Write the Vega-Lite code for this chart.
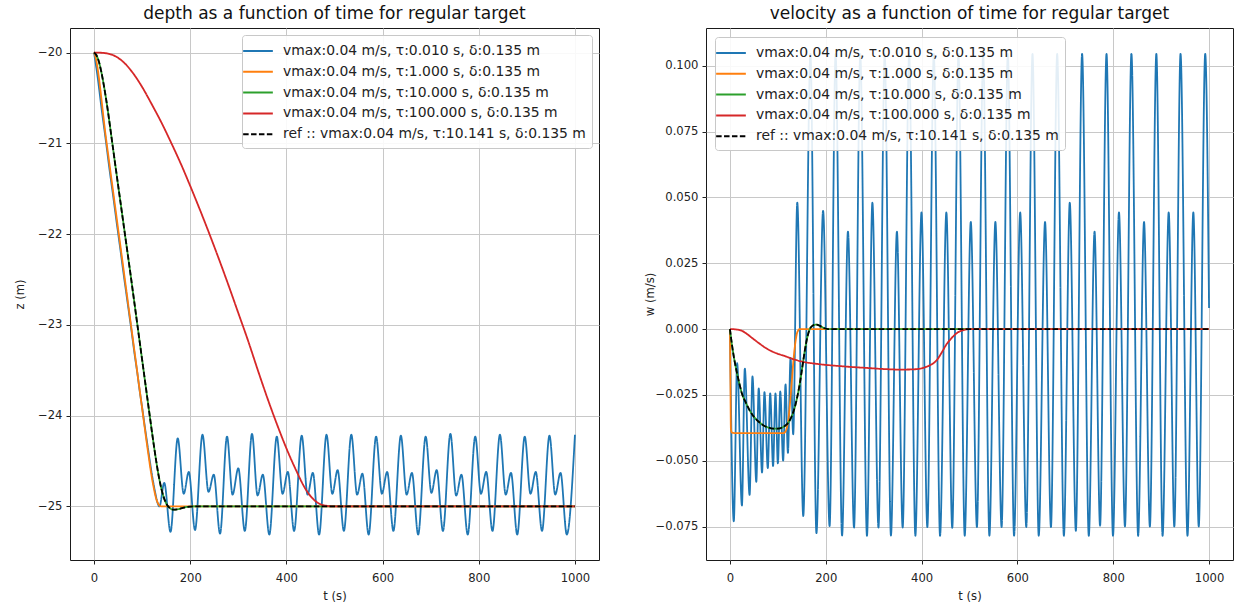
{
  "$schema": "https://vega.github.io/schema/vega-lite/v6.json",
  "background": "white",
  "autosize": {"type": "pad"},
  "padding": {"left": 14, "top": 4, "right": 3, "bottom": 2},
  "bounds": "flush",
  "spacing": 107,
  "config": {
    "font": "DejaVu Sans",
    "view": {"stroke": "#1a1a1a", "strokeWidth": 1},
    "axis": {
      "labelFont": "DejaVu Sans", "labelFontSize": 11.6, "labelColor": "#222",
      "titleFont": "DejaVu Sans", "titleFontSize": 11.6, "titleFontWeight": "normal", "titleColor": "#222",
      "gridColor": "#c8c8c8", "gridWidth": 1, "domain": false,
      "tickColor": "#222", "tickSize": 4, "labelPadding": 4
    },
    "axisX": {"labelPadding": 8},
    "title": {"font": "DejaVu Sans", "fontSize": 17, "fontWeight": "normal", "color": "#111", "frame": "group", "anchor": "middle", "offset": 5},
    "legend": {
      "labelFont": "DejaVu Sans", "labelFontSize": 13.9, "labelColor": "#222", "labelLimit": 500,
      "symbolType": "M-1.65,0H1.65", "symbolSize": 324, "symbolStrokeWidth": 2,
      "labelOffset": 15, "padding": 6, "rowPadding": 3.8,
      "fillColor": "rgba(255,255,255,0.88)", "strokeColor": "#c8c8c8", "cornerRadius": 3
    }
  },
  "datasets": {
    "series": [
      {"s": "a", "name": "vmax:0.04 m/s, τ:0.010 s, δ:0.135 m"},
      {"s": "b", "name": "vmax:0.04 m/s, τ:1.000 s, δ:0.135 m"},
      {"s": "c", "name": "vmax:0.04 m/s, τ:10.000 s, δ:0.135 m"},
      {"s": "d", "name": "vmax:0.04 m/s, τ:100.000 s, δ:0.135 m"},
      {"s": "r", "name": "ref :: vmax:0.04 m/s, τ:10.141 s, δ:0.135 m"}
    ],
    "depth": [
      {"s":"a","t":0,"z":-20},{"s":"a","t":8,"z":-20.29},{"s":"a","t":15,"z":-20.59},{"s":"a","t":25,"z":-20.99},
      {"s":"a","t":31,"z":-21.24},{"s":"a","t":41,"z":-21.63},{"s":"a","t":47,"z":-21.87},{"s":"a","t":55,"z":-22.18},
      {"s":"a","t":60,"z":-22.38},{"s":"a","t":67,"z":-22.65},{"s":"a","t":72,"z":-22.84},{"s":"a","t":79,"z":-23.11},
      {"s":"a","t":84,"z":-23.31},{"s":"a","t":90,"z":-23.53},{"s":"a","t":95,"z":-23.73},{"s":"a","t":100,"z":-23.91},
      {"s":"a","t":105,"z":-24.1},{"s":"a","t":111,"z":-24.32},{"s":"a","t":116,"z":-24.5},{"s":"a","t":121,"z":-24.67},
      {"s":"a","t":126.5,"z":-24.83},{"s":"a","t":132,"z":-24.96},{"s":"a","t":136,"z":-25.0},{"s":"a","t":146,"z":-24.74},
      {"s":"a","t":159,"z":-25.28},{"s":"a","t":174,"z":-24.25},{"s":"a","t":186.5,"z":-24.86},{"s":"a","t":197,"z":-24.62},
      {"s":"a","t":210,"z":-25.26},{"s":"a","t":225.5,"z":-24.21},{"s":"a","t":238,"z":-24.84},{"s":"a","t":249,"z":-24.65},
      {"s":"a","t":262,"z":-25.3},{"s":"a","t":276.5,"z":-24.23},{"s":"a","t":288,"z":-24.87},{"s":"a","t":300,"z":-24.58},
      {"s":"a","t":313.5,"z":-25.27},{"s":"a","t":328.5,"z":-24.2},{"s":"a","t":340,"z":-24.88},{"s":"a","t":351,"z":-24.65},
      {"s":"a","t":364.5,"z":-25.31},{"s":"a","t":380,"z":-24.23},{"s":"a","t":392,"z":-24.86},{"s":"a","t":403,"z":-24.62},
      {"s":"a","t":416,"z":-25.27},{"s":"a","t":431.8,"z":-24.22},{"s":"a","t":444,"z":-24.87},{"s":"a","t":455,"z":-24.63},
      {"s":"a","t":468,"z":-25.31},{"s":"a","t":483.4,"z":-24.21},{"s":"a","t":495.5,"z":-24.86},{"s":"a","t":506.5,"z":-24.6},
      {"s":"a","t":519.5,"z":-25.27},{"s":"a","t":535,"z":-24.21},{"s":"a","t":547,"z":-24.87},{"s":"a","t":558,"z":-24.64},
      {"s":"a","t":571,"z":-25.31},{"s":"a","t":586.5,"z":-24.23},{"s":"a","t":598.5,"z":-24.86},{"s":"a","t":609.5,"z":-24.62},
      {"s":"a","t":622.5,"z":-25.27},{"s":"a","t":638,"z":-24.22},{"s":"a","t":650,"z":-24.87},{"s":"a","t":661,"z":-24.63},
      {"s":"a","t":674,"z":-25.31},{"s":"a","t":689.6,"z":-24.23},{"s":"a","t":701.5,"z":-24.85},{"s":"a","t":712.5,"z":-24.6},
      {"s":"a","t":725.5,"z":-25.27},{"s":"a","t":741,"z":-24.2},{"s":"a","t":753,"z":-24.88},{"s":"a","t":764,"z":-24.65},
      {"s":"a","t":777,"z":-25.31},{"s":"a","t":792.7,"z":-24.23},{"s":"a","t":804.5,"z":-24.86},{"s":"a","t":815.5,"z":-24.62},
      {"s":"a","t":828.5,"z":-25.27},{"s":"a","t":844,"z":-24.21},{"s":"a","t":856,"z":-24.87},{"s":"a","t":867,"z":-24.63},
      {"s":"a","t":880,"z":-25.31},{"s":"a","t":895.6,"z":-24.23},{"s":"a","t":907.5,"z":-24.86},{"s":"a","t":918.5,"z":-24.62},
      {"s":"a","t":931.5,"z":-25.27},{"s":"a","t":947,"z":-24.22},{"s":"a","t":959,"z":-24.87},{"s":"a","t":970,"z":-24.63},
      {"s":"a","t":983,"z":-25.31},{"s":"a","t":1000,"z":-24.21},

      {"s":"b","t":0,"z":-20},{"s":"b","t":2,"z":-20.03},{"s":"b","t":25,"z":-20.95},{"s":"b","t":50,"z":-21.94},
      {"s":"b","t":75,"z":-22.93},{"s":"b","t":100,"z":-23.92},{"s":"b","t":112,"z":-24.39},{"s":"b","t":118,"z":-24.61},
      {"s":"b","t":124,"z":-24.79},{"s":"b","t":129,"z":-24.91},{"s":"b","t":134,"z":-24.975},{"s":"b","t":140,"z":-25.0},
      {"s":"b","t":1000,"z":-25.0},

      {"s":"c","t":0,"z":-20},{"s":"c","t":5,"z":-20.03},{"s":"c","t":10,"z":-20.1},{"s":"c","t":15,"z":-20.21},
      {"s":"c","t":20,"z":-20.35},{"s":"c","t":25,"z":-20.51},{"s":"c","t":30,"z":-20.69},{"s":"c","t":37,"z":-20.96},
      {"s":"c","t":45,"z":-21.27},{"s":"c","t":55,"z":-21.65},{"s":"c","t":65,"z":-22.03},{"s":"c","t":75,"z":-22.41},
      {"s":"c","t":85,"z":-22.8},{"s":"c","t":95,"z":-23.19},{"s":"c","t":105,"z":-23.58},{"s":"c","t":115,"z":-23.97},
      {"s":"c","t":125,"z":-24.35},{"s":"c","t":135,"z":-24.68},{"s":"c","t":145,"z":-24.9},{"s":"c","t":152,"z":-24.985},
      {"s":"c","t":158,"z":-25.02},{"s":"c","t":165,"z":-25.035},{"s":"c","t":175,"z":-25.03},{"s":"c","t":185,"z":-25.015},
      {"s":"c","t":195,"z":-25.004},{"s":"c","t":210,"z":-25.0},{"s":"c","t":1000,"z":-25.0},

      {"s":"d","t":0,"z":-20},{"s":"d","t":20,"z":-20.005},{"s":"d","t":40,"z":-20.03},{"s":"d","t":60,"z":-20.1},
      {"s":"d","t":80,"z":-20.22},{"s":"d","t":100,"z":-20.38},{"s":"d","t":120,"z":-20.57},{"s":"d","t":140,"z":-20.77},
      {"s":"d","t":160,"z":-20.99},{"s":"d","t":180,"z":-21.22},{"s":"d","t":200,"z":-21.47},{"s":"d","t":220,"z":-21.73},
      {"s":"d","t":240,"z":-22.0},{"s":"d","t":260,"z":-22.28},{"s":"d","t":280,"z":-22.57},{"s":"d","t":300,"z":-22.87},
      {"s":"d","t":320,"z":-23.17},{"s":"d","t":340,"z":-23.49},{"s":"d","t":360,"z":-23.8},{"s":"d","t":380,"z":-24.09},
      {"s":"d","t":400,"z":-24.36},{"s":"d","t":420,"z":-24.6},{"s":"d","t":440,"z":-24.81},{"s":"d","t":460,"z":-24.94},
      {"s":"d","t":480,"z":-24.99},{"s":"d","t":500,"z":-25.0},{"s":"d","t":1000,"z":-25.0},

      {"s":"r","t":0,"z":-20},{"s":"r","t":5,"z":-20.03},{"s":"r","t":10,"z":-20.1},{"s":"r","t":15,"z":-20.21},
      {"s":"r","t":20,"z":-20.35},{"s":"r","t":25,"z":-20.51},{"s":"r","t":30,"z":-20.69},{"s":"r","t":37,"z":-20.96},
      {"s":"r","t":45,"z":-21.27},{"s":"r","t":55,"z":-21.65},{"s":"r","t":65,"z":-22.03},{"s":"r","t":75,"z":-22.41},
      {"s":"r","t":85,"z":-22.8},{"s":"r","t":95,"z":-23.19},{"s":"r","t":105,"z":-23.58},{"s":"r","t":115,"z":-23.97},
      {"s":"r","t":125,"z":-24.35},{"s":"r","t":135,"z":-24.68},{"s":"r","t":145,"z":-24.9},{"s":"r","t":152,"z":-24.985},
      {"s":"r","t":158,"z":-25.02},{"s":"r","t":165,"z":-25.035},{"s":"r","t":175,"z":-25.03},{"s":"r","t":185,"z":-25.015},
      {"s":"r","t":195,"z":-25.004},{"s":"r","t":210,"z":-25.0},{"s":"r","t":1000,"z":-25.0}
    ],
    "velocity": [
      {"s":"a","t":0,"w":0},{"s":"a","t":8,"w":-0.073},{"s":"a","t":15,"w":-0.013},{"s":"a","t":25,"w":-0.067},
      {"s":"a","t":31,"w":-0.015},{"s":"a","t":41,"w":-0.063},{"s":"a","t":47,"w":-0.018},{"s":"a","t":55,"w":-0.058},
      {"s":"a","t":60,"w":-0.0225},{"s":"a","t":67,"w":-0.0545},{"s":"a","t":72,"w":-0.024},{"s":"a","t":79,"w":-0.0528},
      {"s":"a","t":84,"w":-0.0244},{"s":"a","t":90,"w":-0.052},{"s":"a","t":95,"w":-0.0244},{"s":"a","t":100,"w":-0.051},
      {"s":"a","t":105,"w":-0.0237},{"s":"a","t":111,"w":-0.05},{"s":"a","t":116,"w":-0.021},{"s":"a","t":121,"w":-0.047},
      {"s":"a","t":126.5,"w":-0.011},{"s":"a","t":132,"w":-0.04},{"s":"a","t":140.5,"w":0.048},{"s":"a","t":153,"w":-0.071},
      {"s":"a","t":168,"w":0.1045},{"s":"a","t":180.5,"w":-0.0775},{"s":"a","t":194.4,"w":0.0449},{"s":"a","t":208,"w":-0.0748},
      {"s":"a","t":220.5,"w":0.1045},{"s":"a","t":234,"w":-0.0784},{"s":"a","t":246.3,"w":0.037},{"s":"a","t":259,"w":-0.0754},
      {"s":"a","t":272,"w":0.1045},{"s":"a","t":286,"w":-0.0785},{"s":"a","t":297.3,"w":0.048},{"s":"a","t":310,"w":-0.0754},
      {"s":"a","t":323,"w":0.1045},{"s":"a","t":336,"w":-0.0784},{"s":"a","t":348.5,"w":0.037},{"s":"a","t":360.5,"w":-0.0754},
      {"s":"a","t":374,"w":0.1045},{"s":"a","t":387,"w":-0.0785},{"s":"a","t":399.8,"w":0.0443},{"s":"a","t":412,"w":-0.0752},
      {"s":"a","t":425.5,"w":0.1045},{"s":"a","t":438.5,"w":-0.0785},{"s":"a","t":451.7,"w":0.0443},{"s":"a","t":464,"w":-0.0755},
      {"s":"a","t":477,"w":0.1045},{"s":"a","t":490,"w":-0.0785},{"s":"a","t":502.7,"w":0.0407},{"s":"a","t":515.5,"w":-0.0752},
      {"s":"a","t":528.5,"w":0.1045},{"s":"a","t":541.5,"w":-0.0785},{"s":"a","t":554,"w":0.0407},{"s":"a","t":567,"w":-0.0752},
      {"s":"a","t":580,"w":0.1045},{"s":"a","t":593,"w":-0.0785},{"s":"a","t":605.8,"w":0.0443},{"s":"a","t":618.5,"w":-0.0752},
      {"s":"a","t":631.5,"w":0.1045},{"s":"a","t":644.5,"w":-0.0785},{"s":"a","t":657.7,"w":0.0407},{"s":"a","t":670,"w":-0.0752},
      {"s":"a","t":683,"w":0.1045},{"s":"a","t":697,"w":-0.0785},{"s":"a","t":709.3,"w":0.048},{"s":"a","t":722,"w":-0.0766},
      {"s":"a","t":735,"w":0.1045},{"s":"a","t":749,"w":-0.0785},{"s":"a","t":761,"w":0.037},{"s":"a","t":772.5,"w":-0.0747},
      {"s":"a","t":786,"w":0.1045},{"s":"a","t":799.5,"w":-0.0785},{"s":"a","t":812,"w":0.0443},{"s":"a","t":824.5,"w":-0.075},
      {"s":"a","t":838,"w":0.1045},{"s":"a","t":852,"w":-0.0785},{"s":"a","t":864.3,"w":0.0407},{"s":"a","t":876.5,"w":-0.075},
      {"s":"a","t":890,"w":0.1045},{"s":"a","t":903,"w":-0.0785},{"s":"a","t":915.8,"w":0.0443},{"s":"a","t":927.5,"w":-0.075},
      {"s":"a","t":940.5,"w":0.1045},{"s":"a","t":955,"w":-0.0785},{"s":"a","t":967.2,"w":0.0443},{"s":"a","t":978.5,"w":-0.075},
      {"s":"a","t":992,"w":0.1045},{"s":"a","t":1000,"w":0.008},

      {"s":"b","t":0,"w":0},{"s":"b","t":1,"w":-0.02},{"s":"b","t":2,"w":-0.038},{"s":"b","t":4,"w":-0.0393},
      {"s":"b","t":10,"w":-0.0395},{"s":"b","t":112,"w":-0.0395},{"s":"b","t":117,"w":-0.0385},{"s":"b","t":121,"w":-0.0355},
      {"s":"b","t":124.5,"w":-0.03},{"s":"b","t":129,"w":-0.02},{"s":"b","t":133,"w":-0.011},{"s":"b","t":137,"w":-0.0045},
      {"s":"b","t":141,"w":-0.001},{"s":"b","t":146,"w":0},{"s":"b","t":1000,"w":0},

      {"s":"c","t":0,"w":0},{"s":"c","t":2,"w":-0.003},{"s":"c","t":5,"w":-0.007},{"s":"c","t":10,"w":-0.0125},
      {"s":"c","t":15,"w":-0.017},{"s":"c","t":20,"w":-0.021},{"s":"c","t":25,"w":-0.0245},{"s":"c","t":32,"w":-0.0275},
      {"s":"c","t":40,"w":-0.0305},{"s":"c","t":50,"w":-0.0333},{"s":"c","t":60,"w":-0.0352},{"s":"c","t":70,"w":-0.0366},
      {"s":"c","t":80,"w":-0.0374},{"s":"c","t":90,"w":-0.0378},{"s":"c","t":100,"w":-0.0378},{"s":"c","t":108,"w":-0.0375},
      {"s":"c","t":116,"w":-0.0366},{"s":"c","t":122,"w":-0.0355},{"s":"c","t":128,"w":-0.0335},{"s":"c","t":134,"w":-0.0305},
      {"s":"c","t":140,"w":-0.0262},{"s":"c","t":146,"w":-0.0205},{"s":"c","t":151,"w":-0.0145},{"s":"c","t":156,"w":-0.0085},
      {"s":"c","t":161,"w":-0.0035},{"s":"c","t":166,"w":-0.0003},{"s":"c","t":172,"w":0.0012},{"s":"c","t":180,"w":0.0017},
      {"s":"c","t":188,"w":0.0012},{"s":"c","t":196,"w":0.0004},{"s":"c","t":205,"w":0},{"s":"c","t":1000,"w":0},

      {"s":"d","t":0,"w":0},{"s":"d","t":10,"w":-0.0001},{"s":"d","t":24,"w":-0.0006},{"s":"d","t":35,"w":-0.0018},
      {"s":"d","t":45.6,"w":-0.0033},{"s":"d","t":60,"w":-0.0053},{"s":"d","t":80,"w":-0.0078},{"s":"d","t":100,"w":-0.0094},
      {"s":"d","t":115,"w":-0.0103},{"s":"d","t":130,"w":-0.0113},{"s":"d","t":149,"w":-0.0123},{"s":"d","t":184,"w":-0.0133},
      {"s":"d","t":218,"w":-0.0139},{"s":"d","t":253,"w":-0.0144},{"s":"d","t":288,"w":-0.0148},{"s":"d","t":322,"w":-0.0152},
      {"s":"d","t":357,"w":-0.0154},{"s":"d","t":384,"w":-0.0153},{"s":"d","t":400,"w":-0.0149},{"s":"d","t":412,"w":-0.0142},
      {"s":"d","t":420,"w":-0.0135},{"s":"d","t":426,"w":-0.0128},{"s":"d","t":433,"w":-0.0115},{"s":"d","t":443,"w":-0.0086},
      {"s":"d","t":452,"w":-0.0058},{"s":"d","t":460,"w":-0.004},{"s":"d","t":467,"w":-0.0026},{"s":"d","t":474.5,"w":-0.0014},
      {"s":"d","t":481,"w":-0.0008},{"s":"d","t":490,"w":-0.0003},{"s":"d","t":500,"w":0},{"s":"d","t":1000,"w":0},

      {"s":"r","t":0,"w":0},{"s":"r","t":2,"w":-0.003},{"s":"r","t":5,"w":-0.007},{"s":"r","t":10,"w":-0.0125},
      {"s":"r","t":15,"w":-0.017},{"s":"r","t":20,"w":-0.021},{"s":"r","t":25,"w":-0.0245},{"s":"r","t":32,"w":-0.0275},
      {"s":"r","t":40,"w":-0.0305},{"s":"r","t":50,"w":-0.0333},{"s":"r","t":60,"w":-0.0352},{"s":"r","t":70,"w":-0.0366},
      {"s":"r","t":80,"w":-0.0374},{"s":"r","t":90,"w":-0.0378},{"s":"r","t":100,"w":-0.0378},{"s":"r","t":108,"w":-0.0375},
      {"s":"r","t":116,"w":-0.0366},{"s":"r","t":122,"w":-0.0355},{"s":"r","t":128,"w":-0.0335},{"s":"r","t":134,"w":-0.0305},
      {"s":"r","t":140,"w":-0.0262},{"s":"r","t":146,"w":-0.0205},{"s":"r","t":151,"w":-0.0145},{"s":"r","t":156,"w":-0.0085},
      {"s":"r","t":161,"w":-0.0035},{"s":"r","t":166,"w":-0.0003},{"s":"r","t":172,"w":0.0012},{"s":"r","t":180,"w":0.0017},
      {"s":"r","t":188,"w":0.0012},{"s":"r","t":196,"w":0.0004},{"s":"r","t":205,"w":0},{"s":"r","t":1000,"w":0}
    ]
  },
  "resolve": {
    "scale": {"x": "independent", "y": "independent", "color": "independent", "strokeDash": "independent"},
    "legend": {"color": "independent", "strokeDash": "independent"}
  },
  "hconcat": [
    {
      "title": "depth as a function of time for regular target",
      "width": 529,
      "height": 532,
      "data": {"name": "depth"},
      "transform": [{"lookup": "s", "from": {"data": {"name": "series"}, "key": "s", "fields": ["name"]}}],
      "mark": {"type": "line", "strokeWidth": 1.8, "interpolate": "monotone", "clip": true},
      "encoding": {
        "x": {"field": "t", "type": "quantitative",
              "scale": {"domain": [-50, 1050], "nice": false, "zero": false},
              "axis": {"title": "t (s)", "values": [0, 200, 400, 600, 800, 1000], "format": "d", "titlePadding": 7}},
        "y": {"field": "z", "type": "quantitative",
              "scale": {"domain": [-25.59, -19.73], "nice": false, "zero": false},
              "axis": {"title": "z (m)", "values": [-25, -24, -23, -22, -21, -20], "format": "d", "titlePadding": 12}},
        "color": {"field": "name", "type": "nominal",
                  "scale": {"domain": ["vmax:0.04 m/s, τ:0.010 s, δ:0.135 m", "vmax:0.04 m/s, τ:1.000 s, δ:0.135 m", "vmax:0.04 m/s, τ:10.000 s, δ:0.135 m", "vmax:0.04 m/s, τ:100.000 s, δ:0.135 m", "ref :: vmax:0.04 m/s, τ:10.141 s, δ:0.135 m"],
                            "range": ["#1f77b4", "#ff7f0e", "#2ca02c", "#d62728", "#000000"]},
                  "legend": {"title": null, "orient": "top-right", "offset": 7}},
        "strokeDash": {"field": "name", "type": "nominal",
                  "scale": {"domain": ["vmax:0.04 m/s, τ:0.010 s, δ:0.135 m", "vmax:0.04 m/s, τ:1.000 s, δ:0.135 m", "vmax:0.04 m/s, τ:10.000 s, δ:0.135 m", "vmax:0.04 m/s, τ:100.000 s, δ:0.135 m", "ref :: vmax:0.04 m/s, τ:10.141 s, δ:0.135 m"],
                            "range": [[1, 0], [1, 0], [1, 0], [1, 0], [5.5, 2.4]]},
                  "legend": {"title": null, "orient": "top-right", "offset": 7}}
      }
    },
    {
      "title": "velocity as a function of time for regular target",
      "width": 527,
      "height": 532,
      "data": {"name": "velocity"},
      "transform": [{"lookup": "s", "from": {"data": {"name": "series"}, "key": "s", "fields": ["name"]}}],
      "mark": {"type": "line", "strokeWidth": 1.8, "interpolate": "monotone", "clip": true},
      "encoding": {
        "x": {"field": "t", "type": "quantitative",
              "scale": {"domain": [-50, 1050], "nice": false, "zero": false},
              "axis": {"title": "t (s)", "values": [0, 200, 400, 600, 800, 1000], "format": "d", "titlePadding": 7}},
        "y": {"field": "w", "type": "quantitative",
              "scale": {"domain": [-0.0877, 0.1143], "nice": false, "zero": false},
              "axis": {"title": "w (m/s)", "values": [-0.075, -0.05, -0.025, 0, 0.025, 0.05, 0.075, 0.1], "format": ".3f", "titlePadding": 0}},
        "color": {"field": "name", "type": "nominal",
                  "scale": {"domain": ["vmax:0.04 m/s, τ:0.010 s, δ:0.135 m", "vmax:0.04 m/s, τ:1.000 s, δ:0.135 m", "vmax:0.04 m/s, τ:10.000 s, δ:0.135 m", "vmax:0.04 m/s, τ:100.000 s, δ:0.135 m", "ref :: vmax:0.04 m/s, τ:10.141 s, δ:0.135 m"],
                            "range": ["#1f77b4", "#ff7f0e", "#2ca02c", "#d62728", "#000000"]},
                  "legend": {"title": null, "orient": "top-left", "offset": 9}},
        "strokeDash": {"field": "name", "type": "nominal",
                  "scale": {"domain": ["vmax:0.04 m/s, τ:0.010 s, δ:0.135 m", "vmax:0.04 m/s, τ:1.000 s, δ:0.135 m", "vmax:0.04 m/s, τ:10.000 s, δ:0.135 m", "vmax:0.04 m/s, τ:100.000 s, δ:0.135 m", "ref :: vmax:0.04 m/s, τ:10.141 s, δ:0.135 m"],
                            "range": [[1, 0], [1, 0], [1, 0], [1, 0], [5.5, 2.4]]},
                  "legend": {"title": null, "orient": "top-left", "offset": 9}}
      }
    }
  ]
}
